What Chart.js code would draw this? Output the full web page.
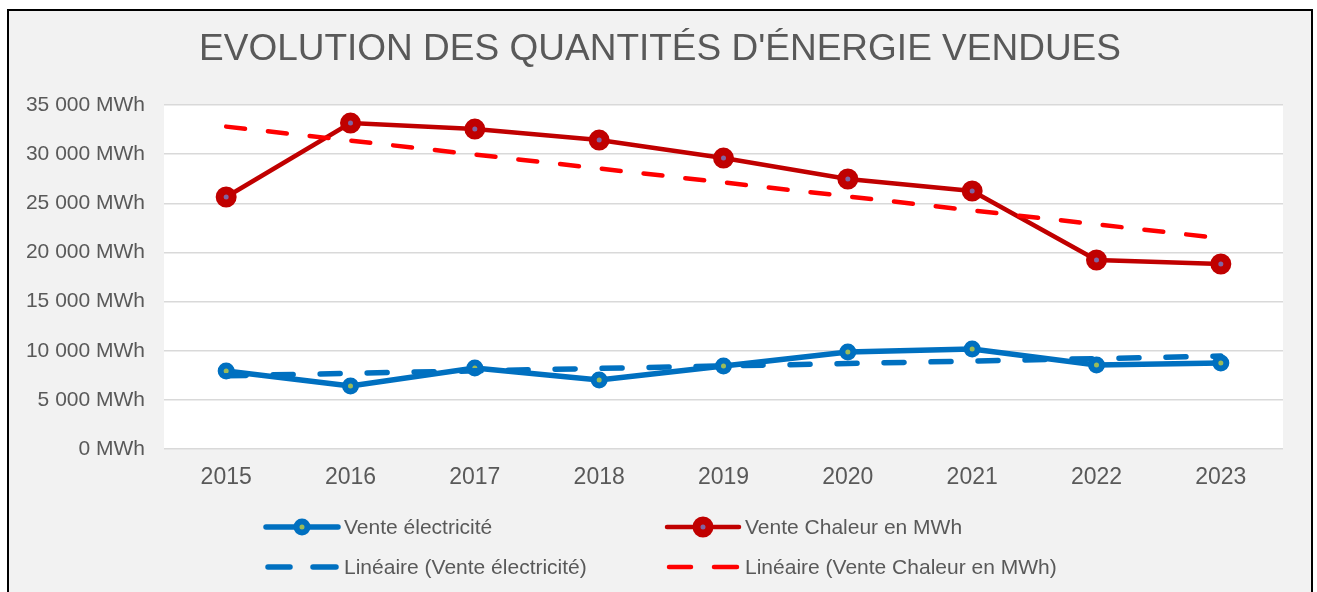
<!DOCTYPE html>
<html>
<head>
<meta charset="utf-8">
<script src="https://cdn.jsdelivr.net/npm/chart.js@4"></script>
<style>
    body { margin: 0; background: #ffffff; overflow: hidden; }
    .frame {
        position: absolute;
        left: 7px;
        top: 9px;
        width: 1302px;
        height: 600px;
        background: #f2f2f2;
        border: 2px solid #000000;
    }
    .frame canvas { display: block; }
</style>
</head>
<body>
<div class="frame">
    <canvas id="chart" width="1302" height="581"></canvas>
</div>
<script>
/* Données */
const years = ["2015", "2016", "2017", "2018", "2019", "2020", "2021", "2022", "2023"];
const venteElec = [7930, 6410, 8240, 7020, 8440, 9870, 10170, 8550, 8750];
const venteChaleur = [25640, 33160, 32550, 31430, 29600, 27470, 26250, 19230, 18820];
// Courbes de tendance
const tendanceElec = [7450, 7700, 7950, 8200, 8450, 8700, 8950, 9200, 9450];
const tendanceChaleur = [32800, 31380, 29960, 28540, 27120, 25700, 24280, 22860, 21440];
const yTicks = [0, 5000, 10000, 15000, 20000, 25000, 30000, 35000];

const chartTitle = "EVOLUTION DES QUANTITÉS D'ÉNERGIE VENDUES";
const legendLabels = [
    "Vente électricité",
    "Vente Chaleur en MWh",
    "Linéaire (Vente électricité)",
    "Linéaire (Vente Chaleur en MWh)"
];

const FONT = "'Liberation Sans', Arial, sans-serif";
const GREY = "#595959";

function formatMWh(v) {
    return String(v).replace(/\B(?=(\d{3})+(?!\d))/g, " ") + " MWh";
}

/* Fond blanc de la zone de tracé + titre */
const plotBg = {
    id: "plotBg",
    beforeDraw(chart) {
        const a = chart.chartArea;
        const ctx = chart.ctx;
        ctx.save();
        ctx.fillStyle = "#ffffff";
        ctx.fillRect(a.left, a.top, a.right - a.left, a.bottom - a.top);
        ctx.fillStyle = GREY;
        ctx.font = "37px " + FONT;
        ctx.textAlign = "center";
        ctx.textBaseline = "middle";
        ctx.fillText(chartTitle, 651, 39);
        ctx.restore();
    }
};

/* Légende sur deux colonnes, comme dans Excel */
const gridLegend = {
    id: "gridLegend",
    afterDraw(chart) {
        const ctx = chart.ctx;
        const cols = [257, 658];
        const rows = [516, 556];
        const sets = chart.data.datasets;
        sets.forEach((ds, i) => {
            const x = cols[i % 2];
            const y = rows[Math.floor(i / 2)];
            ctx.save();
            ctx.strokeStyle = ds.borderColor;
            ctx.lineWidth = ds.borderWidth;
            ctx.lineCap = "round";
            if (ds.borderDash && ds.borderDash.length) {
                ctx.beginPath();
                ctx.moveTo(x + 2, y); ctx.lineTo(x + 24, y);
                ctx.moveTo(x + 47, y); ctx.lineTo(x + 70, y);
                ctx.stroke();
            } else {
                ctx.beginPath();
                ctx.moveTo(x, y); ctx.lineTo(x + 72, y);
                ctx.stroke();
                ctx.beginPath();
                ctx.arc(x + 36, y, ds.pointRadius, 0, Math.PI * 2);
                ctx.fillStyle = ds.pointBackgroundColor;
                ctx.fill();
                ctx.lineWidth = ds.pointBorderWidth;
                ctx.strokeStyle = ds.pointBorderColor;
                ctx.stroke();
            }
            ctx.fillStyle = GREY;
            ctx.font = "21px " + FONT;
            ctx.textBaseline = "middle";
            ctx.fillText(ds.label, x + 78, y + 1);
            ctx.restore();
        });
    }
};

document.addEventListener("DOMContentLoaded", function () {
    let ctx = document.getElementById("chart").getContext("2d");

    new Chart(ctx, {
        type: "line",
        data: {
            labels: years,
            datasets: [
                {
                    label: legendLabels[0],
                    data: venteElec,
                    borderColor: "#0070c0",
                    borderWidth: 5.5,
                    pointRadius: 5.5,
                    pointBorderWidth: 6,
                    pointBackgroundColor: "#9bbb59",
                    pointBorderColor: "#0070c0",
                    tension: 0,
                    order: 2
                },
                {
                    label: legendLabels[1],
                    data: venteChaleur,
                    borderColor: "#c00000",
                    borderWidth: 4.5,
                    pointRadius: 6.5,
                    pointBorderWidth: 8,
                    pointBackgroundColor: "#8064a2",
                    pointBorderColor: "#c00000",
                    tension: 0,
                    order: 2
                },
                {
                    label: legendLabels[2],
                    data: tendanceElec,
                    borderColor: "#0070c0",
                    borderWidth: 5.5,
                    borderDash: [20, 27],
                    borderCapStyle: "round",
                    pointRadius: 0,
                    tension: 0,
                    order: 1
                },
                {
                    label: legendLabels[3],
                    data: tendanceChaleur,
                    borderColor: "#ff0000",
                    borderWidth: 4.5,
                    borderDash: [19, 23],
                    borderCapStyle: "round",
                    pointRadius: 0,
                    tension: 0,
                    order: 1
                }
            ]
        },
        options: {
            responsive: false,
            animation: false,
            layout: {
                padding: { left: 0, right: 28, top: 94, bottom: 93 }
            },
            plugins: {
                legend: { display: false },
                tooltip: { enabled: false },
                title: { display: false }
            },
            scales: {
                x: {
                    offset: true,
                    grid: { display: false, drawTicks: false },
                    border: { display: false },
                    ticks: {
                        color: GREY,
                        font: { family: FONT, size: 23 },
                        padding: 15
                    },
                    afterFit(scale) { scale.height = 50; }
                },
                y: {
                    min: 0,
                    max: 35000,
                    afterBuildTicks(scale) {
                        scale.ticks = yTicks.map(v => ({ value: v }));
                    },
                    grid: { color: "#d9d9d9", lineWidth: 1.5, drawTicks: false },
                    border: { display: false },
                    ticks: {
                        color: GREY,
                        font: { family: FONT, size: 21 },
                        padding: 19,
                        callback: v => formatMWh(v)
                    },
                    afterFit(scale) { scale.width = 155; }
                }
            }
        },
        plugins: [plotBg, gridLegend]
    });
});
</script>
</body>
</html>
